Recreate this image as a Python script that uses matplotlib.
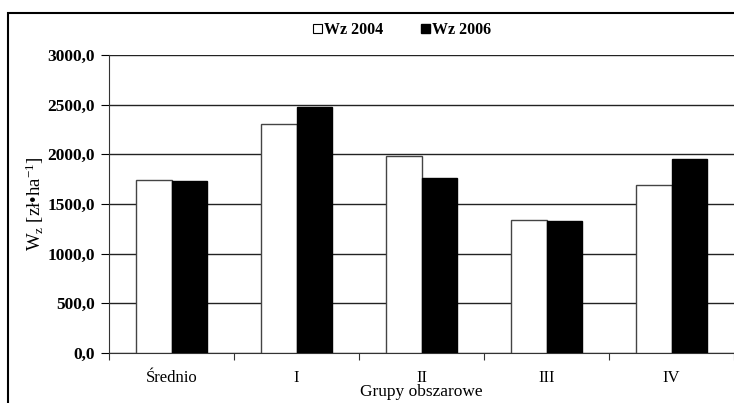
import numpy as np
import matplotlib
matplotlib.use('Agg')
import matplotlib.pyplot as plt
from matplotlib.patches import Rectangle, Patch
from matplotlib.ticker import FuncFormatter

plt.rcParams['font.family'] = 'Liberation Serif'
plt.rcParams['mathtext.fontset'] = 'custom'
plt.rcParams['mathtext.rm'] = 'Liberation Serif'
plt.rcParams['mathtext.it'] = 'Liberation Serif'

categories = ['Średnio', 'I', 'II', 'III', 'IV']
wz_2004 = [1745, 2305, 1980, 1338, 1693]
wz_2006 = [1735, 2480, 1758, 1333, 1948]
series_names = ['Wz 2004', 'Wz 2006']

fig = plt.figure(figsize=(7.34, 4.03), dpi=100)
ax = fig.add_axes([109 / 734, 1 - 353 / 403, 625 / 734, 298 / 403])

# outer frame around the chart
fig.patches.append(Rectangle((8 / 734, -0.05), 1.1, 1.05 - 13 / 403,
                             transform=fig.transFigure, fill=False,
                             edgecolor='black', linewidth=1.5))

x = np.arange(len(categories))
w = 0.284
ax.bar(x - w / 2, wz_2004, w, color='white', edgecolor='#444444', linewidth=1, zorder=3)
ax.bar(x + w / 2, wz_2006, w, color='black', edgecolor='black', linewidth=1, zorder=3)

ax.set_xlim(-0.5, len(categories) - 0.5)
ax.set_ylim(0, 3000)
ax.set_yticks(np.arange(0, 3001, 500))
ax.yaxis.set_major_formatter(FuncFormatter(lambda v, p: f'{v:.1f}'.replace('.', ',')))
ax.yaxis.grid(True, color='#222222', linewidth=1)
ax.set_axisbelow(True)

ax.set_xticks(np.arange(-0.5, len(categories) + 0.5, 1))
ax.set_xticklabels([])
ax.set_xticks(x, minor=True)
ax.set_xticklabels(categories, minor=True, fontsize=12)
ax.tick_params(axis='x', which='minor', length=0, pad=12)
ax.tick_params(axis='x', which='major', length=5, direction='out', color='#333333')
ax.tick_params(axis='y', length=6, direction='out', labelsize=12.5, pad=4)
for t in ax.get_yticklabels():
    t.set_fontweight('bold')

for s in ['top', 'right']:
    ax.spines[s].set_visible(False)
ax.spines['left'].set_color('#333333')
ax.spines['bottom'].set_color('#333333')

ax.set_xlabel('Grupy obszarowe', fontsize=12.5, labelpad=-1)
ax.set_ylabel('W$_z$ [zł•ha$^{-1}$]', fontsize=13.5, labelpad=1)

handles = [Patch(facecolor='white', edgecolor='black', linewidth=0.8),
           Patch(facecolor='black', edgecolor='black')]
leg = fig.legend(handles, series_names, loc='center', bbox_to_anchor=(402 / 734, 1 - 30 / 403),
                 ncol=2, frameon=False, handlelength=0.55, handleheight=0.55,
                 handletextpad=0.1, columnspacing=2.4,
                 prop={'family': 'Liberation Serif', 'size': 11.5, 'weight': 'bold'})

fig.savefig('out.png', dpi=100)
